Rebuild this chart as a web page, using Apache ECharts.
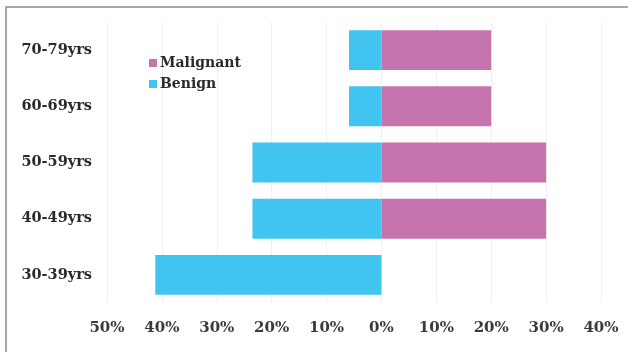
<!DOCTYPE html>
<html><head><meta charset="utf-8">
<script src="https://cdn.jsdelivr.net/npm/echarts@6/dist/echarts.min.js"></script>
<style>html,body{margin:0;padding:0;background:#fff}#c{width:628px;height:352px}</style>
</head><body><div id="c"></div>
<script>
const categories = ['30-39yrs','40-49yrs','50-59yrs','60-69yrs','70-79yrs'];
const benign = [41.2, 23.5, 23.5, 5.9, 5.9];
const malignant = [0, 30, 30, 20, 20];
const xTicks = [-50,-40,-30,-20,-10,0,10,20,30,40];

const font = 'DejaVu Serif';
const chart = echarts.init(document.getElementById('c'));
chart.setOption({
  animation:false,
  backgroundColor:'#fff',
  graphic:[{type:'rect',shape:{x:6,y:7,width:640,height:360},style:{fill:'none',stroke:'#8c8c8c',lineWidth:1.5},silent:true}],
  legend:{
    data:['Malignant','Benign'], orient:'vertical', left:144, top:51,
    itemWidth:8, itemHeight:8, itemGap:7, icon:'rect',
    textStyle:{fontFamily:font,fontWeight:'bold',fontSize:14,color:'#2a2a2a',padding:[0,0,0,-2]}
  },
  grid:{left:107,right:27,top:22,bottom:49},
  xAxis:{
    type:'value', min:xTicks[0], max:xTicks[xTicks.length-1], interval:10,
    axisLine:{show:false}, axisTick:{show:false},
    splitLine:{lineStyle:{color:'#eef0f2',width:1}},
    axisLabel:{formatter:v=>Math.abs(v)+'%',fontFamily:font,fontWeight:'bold',fontSize:15,color:'#3a3a3a',margin:18}
  },
  yAxis:{
    type:'category', data:categories,
    axisLine:{show:false}, axisTick:{show:false},
    axisLabel:{fontFamily:font,fontWeight:'bold',fontSize:14.5,color:'#2a2a2a',margin:15}
  },
  series:[
    {name:'Malignant',type:'bar',stack:'t',data:malignant,barCategoryGap:'29%',itemStyle:{color:'#C674AE'}},
    {name:'Benign',type:'bar',stack:'t',data:benign.map(v=>-v),barCategoryGap:'29%',itemStyle:{color:'#41C4F0'}}
  ]
});
</script></body></html>
